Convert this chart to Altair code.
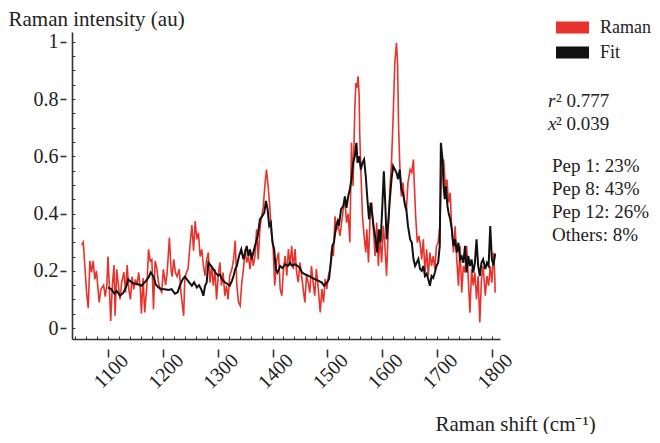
import altair as alt
import pandas as pd

# ---------------- data ----------------
raman_shift = [1052, 1055, 1058, 1061, 1064, 1067, 1070, 1073, 1076, 1079, 1084, 1087, 1092, 1095, 1098,
               1100, 1102, 1105, 1108, 1111, 1113, 1116, 1119, 1122, 1125, 1129, 1132, 1135, 1138, 1141,
               1144, 1147, 1150, 1153, 1156, 1159, 1161, 1164, 1167, 1171, 1174, 1177, 1180, 1183, 1186,
               1189, 1192, 1195, 1198, 1201, 1205, 1208, 1212, 1215, 1217, 1220, 1223, 1226, 1230, 1233,
               1238, 1240, 1243, 1246, 1250, 1253, 1256, 1259, 1262, 1265, 1268, 1271, 1274, 1277, 1280,
               1283, 1286, 1289, 1292, 1295, 1298, 1301, 1304, 1307, 1310, 1313, 1316, 1319, 1322, 1326,
               1329, 1332, 1335, 1338, 1341, 1344, 1347, 1350, 1353, 1356, 1359, 1362, 1365, 1368, 1371,
               1374, 1377, 1380, 1383, 1386, 1389, 1392, 1395, 1398, 1401, 1404, 1408, 1411, 1414, 1417,
               1420, 1423, 1426, 1429, 1432, 1435, 1438, 1441, 1444, 1447, 1450, 1453, 1456, 1459, 1462,
               1465, 1468, 1471, 1474, 1477, 1480, 1483, 1487, 1490, 1493, 1496, 1499, 1502, 1505, 1508,
               1511, 1514, 1517, 1520, 1523, 1526, 1529, 1532, 1535, 1538, 1541, 1544, 1547, 1550, 1552,
               1554, 1556, 1558, 1559, 1561, 1564, 1567, 1570, 1572, 1575, 1578, 1581, 1584, 1587, 1590,
               1593, 1596, 1599, 1602, 1605, 1608, 1611, 1614, 1617, 1620, 1623, 1626, 1628, 1630, 1633,
               1635, 1638, 1641, 1644, 1647, 1651, 1654, 1657, 1658, 1661, 1664, 1667, 1669, 1672, 1675,
               1678, 1681, 1684, 1687, 1690, 1693, 1696, 1699, 1702, 1705, 1708, 1712, 1715, 1718, 1721,
               1724, 1727, 1730, 1733, 1736, 1739, 1742, 1745, 1748, 1751, 1754, 1757, 1760, 1763, 1766,
               1769, 1772, 1775, 1778, 1781, 1784, 1788, 1791, 1794, 1797, 1800, 1803, 1805, 1806]
raman_intensity = [0.29, 0.30, 0.21, 0.125, 0.07, 0.235, 0.195, 0.235, 0.17, 0.20, 0.09, 0.135, 0.15, 0.11, 0.15,
                   0.25, 0.17, 0.025, 0.15, 0.22, 0.043, 0.205, 0.15, 0.10, 0.16, 0.195, 0.124, 0.22, 0.135, 0.10,
                   0.18, 0.135, 0.17, 0.15, 0.195, 0.135, 0.05, 0.175, 0.055, 0.15, 0.275, 0.235, 0.24, 0.066, 0.235,
                   0.21, 0.16, 0.135, 0.125, 0.205, 0.15, 0.195, 0.316, 0.206, 0.18, 0.24, 0.194, 0.18, 0.206, 0.125,
                   0.043, 0.17, 0.194, 0.206, 0.30, 0.36, 0.27, 0.374, 0.31, 0.333, 0.25, 0.275, 0.217, 0.183, 0.24,
                   0.264, 0.159, 0.217, 0.148, 0.206, 0.10, 0.183, 0.23, 0.148, 0.194, 0.113, 0.148, 0.10, 0.183, 0.206,
                   0.24, 0.305, 0.148, 0.09, 0.078, 0.16, 0.206, 0.275, 0.229, 0.252, 0.206, 0.264, 0.217, 0.252, 0.345,
                   0.24, 0.345, 0.39, 0.42, 0.496, 0.554, 0.496, 0.426, 0.333, 0.287, 0.148, 0.24, 0.264, 0.136, 0.113,
                   0.206, 0.252, 0.183, 0.276, 0.217, 0.287, 0.206, 0.276, 0.194, 0.16, 0.229, 0.183, 0.136, 0.09, 0.183,
                   0.16, 0.124, 0.217, 0.16, 0.113, 0.206, 0.148, 0.055, 0.136, 0.09, 0.171, 0.136, 0.183, 0.206, 0.276,
                   0.252, 0.39, 0.345, 0.357, 0.322, 0.368, 0.415, 0.45, 0.368, 0.40, 0.299, 0.647, 0.496, 0.763, 0.856,
                   0.84, 0.879, 0.81, 0.682, 0.554, 0.392, 0.322, 0.264, 0.345, 0.229, 0.392, 0.438, 0.345, 0.252, 0.368,
                   0.217, 0.322, 0.229, 0.357, 0.287, 0.183, 0.345, 0.484, 0.577, 0.74, 0.926, 0.995, 0.926, 0.694, 0.52,
                   0.46, 0.508, 0.427, 0.41, 0.508, 0.554, 0.543, 0.589, 0.531, 0.392, 0.299, 0.322, 0.298, 0.24, 0.31,
                   0.194, 0.275, 0.182, 0.264, 0.217, 0.252, 0.206, 0.287, 0.298, 0.356, 0.53, 0.589, 0.496, 0.519, 0.438,
                   0.473, 0.333, 0.264, 0.356, 0.24, 0.148, 0.287, 0.124, 0.217, 0.194, 0.287, 0.171, 0.054, 0.206, 0.148,
                   0.194, 0.101, 0.182, 0.02, 0.171, 0.217, 0.113, 0.182, 0.148, 0.217, 0.159, 0.264, 0.194, 0.124]

fit_shift = [1100, 1106, 1112, 1116, 1122, 1128, 1134, 1137, 1143, 1149, 1155, 1161, 1167, 1174, 1178,
             1183, 1187, 1192, 1198, 1204, 1210, 1216, 1222, 1227, 1231, 1236, 1240, 1244, 1248, 1253,
             1257, 1262, 1266, 1270, 1274, 1277, 1280, 1283, 1288, 1292, 1296, 1301, 1304, 1308, 1313,
             1318, 1322, 1326, 1329, 1332, 1335, 1339, 1343, 1347, 1350, 1353, 1356, 1359, 1362, 1365,
             1368, 1373, 1377, 1381, 1385, 1388, 1391, 1394, 1397, 1400, 1403, 1406, 1409, 1414, 1418,
             1423, 1428, 1432, 1436, 1441, 1446, 1450, 1454, 1459, 1465, 1471, 1477, 1484, 1490, 1494,
             1499, 1503, 1507, 1509, 1512, 1516, 1519, 1521, 1525, 1529, 1532, 1535, 1538, 1541, 1544,
             1547, 1550, 1553, 1555, 1558, 1561, 1564, 1567, 1570, 1573, 1576, 1579, 1582, 1585, 1588,
             1591, 1594, 1597, 1600, 1603, 1606, 1608, 1611, 1614, 1617, 1620, 1623, 1626, 1629, 1632,
             1635, 1638, 1641, 1644, 1647, 1651, 1654, 1657, 1660, 1663, 1666, 1669, 1672, 1675, 1678,
             1681, 1684, 1687, 1690, 1693, 1696, 1699, 1702, 1705, 1707, 1710, 1712, 1714, 1716, 1719,
             1721, 1724, 1727, 1730, 1733, 1736, 1739, 1742, 1745, 1748, 1751, 1754, 1757, 1760, 1763,
             1766, 1769, 1772, 1775, 1778, 1781, 1784, 1788, 1791, 1794, 1797, 1800, 1803, 1806]
fit_intensity = [0.142, 0.136, 0.12, 0.13, 0.113, 0.124, 0.148, 0.17, 0.16, 0.155, 0.153, 0.148, 0.16, 0.177, 0.195,
                 0.18, 0.153, 0.142, 0.136, 0.136, 0.133, 0.136, 0.12, 0.125, 0.148, 0.17, 0.18, 0.17, 0.16, 0.148,
                 0.16, 0.142, 0.15, 0.136, 0.113, 0.148, 0.159, 0.229, 0.217, 0.206, 0.194, 0.183, 0.188, 0.171, 0.16,
                 0.154, 0.148, 0.165, 0.183, 0.206, 0.217, 0.252, 0.275, 0.24, 0.264, 0.287, 0.252, 0.275, 0.24, 0.264,
                 0.287, 0.322, 0.38, 0.39, 0.403, 0.444, 0.415, 0.357, 0.368, 0.299, 0.276, 0.206, 0.194, 0.217, 0.21,
                 0.223, 0.217, 0.229, 0.217, 0.223, 0.217, 0.21, 0.194, 0.188, 0.183, 0.177, 0.171, 0.165, 0.159, 0.148,
                 0.159, 0.171, 0.24, 0.287, 0.299, 0.357, 0.374, 0.357, 0.415, 0.426, 0.46, 0.42, 0.46, 0.485, 0.52,
                 0.577, 0.60, 0.647, 0.577, 0.60, 0.554, 0.577, 0.589, 0.531, 0.45, 0.38, 0.438, 0.392, 0.345, 0.31,
                 0.264, 0.345, 0.299, 0.415, 0.548, 0.415, 0.31, 0.368, 0.45, 0.52, 0.566, 0.554, 0.543, 0.52, 0.554,
                 0.485, 0.47, 0.438, 0.415, 0.357, 0.31, 0.299, 0.241, 0.217, 0.229, 0.241, 0.206, 0.20, 0.217, 0.182,
                 0.19, 0.171, 0.148, 0.182, 0.175, 0.194, 0.217, 0.228, 0.287, 0.647, 0.589, 0.496, 0.45, 0.496, 0.426,
                 0.403, 0.38, 0.345, 0.287, 0.31, 0.264, 0.298, 0.24, 0.25, 0.228, 0.287, 0.194, 0.252, 0.217, 0.24,
                 0.194, 0.228, 0.31, 0.217, 0.182, 0.228, 0.24, 0.206, 0.228, 0.217, 0.356, 0.24, 0.22, 0.26]

series_names = ["Raman", "Fit"]
series_colors = ["#e8332c", "#111111"]

x_ticks = [1100, 1200, 1300, 1400, 1500, 1600, 1700, 1800]
x_minor = list(range(1040, 1801, 20))
y_ticks = [0, 0.2, 0.4, 0.6, 0.8, 1.0]
y_minor = [round(i * 0.05, 2) for i in range(0, 21)]

stat_symbols = ["r", "x"]
stat_values = ["\u00b2 0.777", "\u00b2 0.039"]
composition = ["Pep 1: 23%", "Pep 8: 43%", "Pep 12: 26%", "Others: 8%"]

# ---------------- chart ----------------
SERIF = "Liberation Serif"
W, H = 428, 307
TXT = "#222222"
AX = "#333333"

df_r = pd.DataFrame({"shift": raman_shift, "intensity": raman_intensity, "series": "Raman"})
df_f = pd.DataFrame({"shift": fit_shift, "intensity": fit_intensity, "series": "Fit"})

xscale = alt.Scale(domain=[1034.4, 1814.8], nice=False, zero=False)
yscale = alt.Scale(domain=[-0.038, 1.034], nice=False, zero=False)

color = alt.Color(
    "series:N",
    scale=alt.Scale(domain=series_names, range=series_colors),
    legend=alt.Legend(
        orient="none", legendX=478, legendY=-17, title=None,
        symbolType="stroke", symbolSize=1089, symbolStrokeWidth=12,
        clipHeight=25, rowPadding=0, padding=0,
        labelFont=SERIF, labelFontSize=18, labelColor=TXT, labelOffset=5,
    ),
)

raman = alt.Chart(df_r).mark_line(strokeWidth=1.6).encode(
    x=alt.X("shift:Q", scale=xscale, axis=alt.Axis(
        orient="bottom", values=x_ticks, format="d", offset=10, tickSize=8, tickWidth=1.6, tickColor=AX,
        domain=False, labelAngle=315, labelAlign="center", labelBaseline="middle",
        labelFont=SERIF, labelFontSize=20, labelColor=TXT, labelPadding=14, labelOffset=3,
        title="Raman shift (cm\u207b\u00b9)", titleFont=SERIF, titleFontSize=21,
        titleFontWeight="normal", titleColor=TXT, titleX=363, titleY=75,
        titleAlign="left", titleBaseline="middle", titleAngle=0)),
    y=alt.Y("intensity:Q", scale=yscale, axis=alt.Axis(
        orient="left", values=y_ticks, format="~g", offset=6, tickSize=6, tickWidth=1.6,
        tickColor=AX, domain=False, labelPadding=2,
        labelFont=SERIF, labelFontSize=20, labelColor=TXT,
        title="Raman intensity (au)", titleFont=SERIF, titleFontSize=21,
        titleFontWeight="normal", titleColor=TXT, titleAngle=0, titleX=-58, titleY=-13,
        titleAlign="left", titleBaseline="middle")),
    color=color,
)

fit = alt.Chart(df_f).mark_line(strokeWidth=2).encode(
    x=alt.X("shift:Q", scale=xscale, axis=alt.Axis(
        orient="top", offset=-H, values=x_minor, tickSize=3, tickWidth=1, tickColor=AX,
        labels=False, title=None, domain=True, domainColor=AX, domainWidth=1.6)),
    y=alt.Y("intensity:Q", scale=yscale, axis=alt.Axis(
        orient="right", offset=-W, values=y_minor, tickSize=3, tickWidth=1, tickColor=AX,
        labels=False, title=None, domain=True, domainColor=AX, domainWidth=1.6)),
    color=color,
)

one = pd.DataFrame({"k": [0]})


def label(text, x, y, style="normal", size=19):
    return alt.Chart(one).mark_text(
        text=text, align="left", baseline="middle", font=SERIF, fontSize=size,
        fontStyle=style, color=TXT,
    ).encode(x=alt.value(x), y=alt.value(y))


notes = [
    label(stat_symbols[0], 476, 69, "italic"),
    label(stat_values[0], 484, 69),
    label(stat_symbols[1], 476, 92, "italic"),
    label(stat_values[1], 484, 92),
]
for i, t in enumerate(composition):
    notes.append(label(t, 480, 134 + 23 * i))

chart = alt.layer(raman, fit, *notes).resolve_axis(
    x="independent", y="independent"
).properties(
    width=W, height=H,
    autosize=alt.AutoSizeParams(type="none"),
    padding={"left": 64, "top": 24, "right": 152, "bottom": 95},
).configure_axis(grid=False).configure_view(stroke=None)

chart.save("out.html", embed_options={"renderer": "svg", "actions": False})
